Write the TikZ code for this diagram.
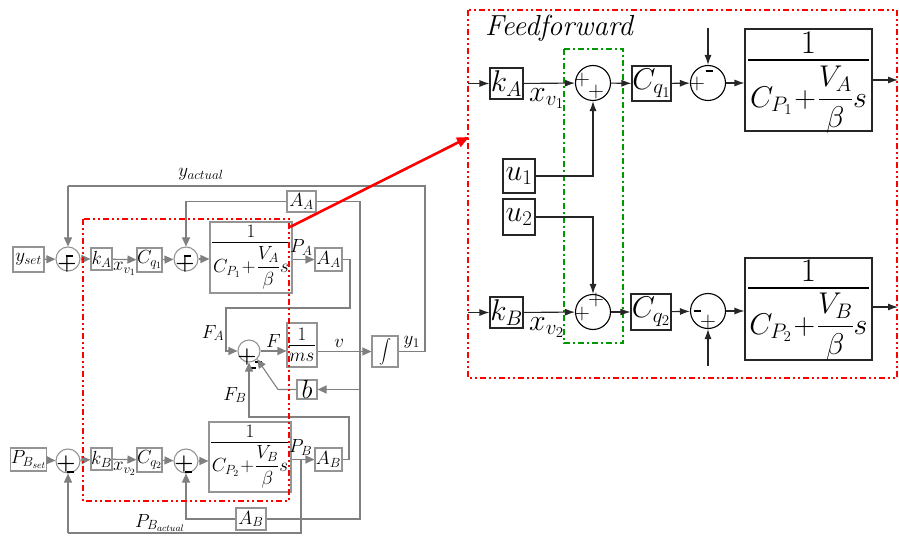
\RequirePackage{fix-cm}
\documentclass[tikz,border=0pt]{standalone}
\usepackage{amsmath}
\usetikzlibrary{arrows.meta,positioning,calc}

\newcommand{\signbar}{\rule[0pt]{7pt}{2.6pt}}

\begin{document}
\begin{tikzpicture}[
  x=1pt, y=-1pt,
  lfs/.style={font=\fontsize{19}{21}\selectfont},
  rfs/.style={font=\fontsize{30}{32}\selectfont},
  lblk/.style={draw=black!42, line width=1.1pt, inner sep=0pt, lfs},
  rblk/.style={draw=black!85, line width=1.1pt, inner sep=0pt, rfs},
  lsum/.style={circle, draw=black!42, line width=1.1pt, minimum size=24pt, inner sep=0pt},
  rsum/.style={circle, draw=black, line width=1.1pt, minimum size=35pt, inner sep=0pt},
  lwire/.style={draw=black!50, line width=1.1pt},
  larr/.style={lwire, -{Triangle[length=9pt,width=8pt]}},
  rwire/.style={draw=black!85, line width=1.1pt},
  rarr/.style={rwire, -{Latex[length=10pt,width=7pt]}},
  lsign/.style={inner sep=0pt, font=\fontsize{22}{22}\selectfont},
  rsign/.style={inner sep=0pt, font=\fontsize{22}{22}\selectfont},
  redbox/.style={draw=red, line width=2.6pt, dash pattern=on 6pt off 3pt on 2pt off 3pt on 2pt off 3pt},
  greenbox/.style={draw=green!60!black, line width=2.2pt, dash pattern=on 6pt off 3pt on 2pt off 3pt}
]
  \useasboundingbox (0,0) rectangle (899,537);

  % ---- left: closed loop ----
  \node[lblk, minimum width=31pt, minimum height=25pt] (yset) at (28.5,259.5) {$y_{set}$};
  \node[lsum] (sA1) at (68,259) {};
  \node[lblk, minimum width=21pt, minimum height=22pt] (kA) at (101.5,259) {$k_A$};
  \node[lblk, minimum width=25pt, minimum height=24pt] (cqA) at (149.5,260) {$C_{q_1}$};
  \node[lsum] (sA2) at (186,259) {};
  \node[lblk, minimum width=82pt, minimum height=71pt] (tfA) at (251,257.5) {};
  \draw[line width=0.9pt] (212,242) -- (290,242);
  \node[lfs] (tfAnum) at (251,231) {$1$};
  \node[lfs] (tfAden) at (251,268) {$C_{P_1}\!+\!\dfrac{V_A}{\beta}s$};
  \node[lblk, minimum width=27pt, minimum height=23pt] (aAr) at (328.5,259.5) {$A_A$};
  \node[lblk, minimum width=29pt, minimum height=21pt] (aAt) at (301.5,201.5) {$A_A$};

  \node[lsum, minimum size=22pt] (sF) at (249,351) {};
  \node[lblk, minimum width=30pt, minimum height=44pt] (invm) at (302,345) {};
  \draw[line width=0.9pt] (289,345) -- (315,345);
  \node[lfs] (invmnum) at (302,334) {$1$};
  \node[lfs] (invmden) at (302,357) {$ms$};
  \node[lblk, minimum width=20pt, minimum height=19pt, font=\fontsize{26}{26}\selectfont] (bblk) at (307,389.5) {$b$};
  \node[lblk, minimum width=26pt, minimum height=31pt, font=\fontsize{13}{13}\selectfont] (intg) at (385,351.5) {$\displaystyle\int$};
  \coordinate (vj) at (360,351.5);

  \node[lblk, minimum width=31pt, minimum height=23pt] (pbset) at (28.5,459.5) {$P_{B_{set}}$};
  \node[lsum] (sB1) at (68,461) {};
  \node[lblk, minimum width=21pt, minimum height=22pt] (kB) at (101.5,459) {$k_B$};
  \node[lblk, minimum width=25pt, minimum height=24pt] (cqB) at (149.5,460) {$C_{q_2}$};
  \node[lsum] (sB2) at (186,461) {};
  \node[lblk, minimum width=82pt, minimum height=70pt] (tfB) at (250,457) {};
  \draw[line width=0.9pt] (211,442) -- (289,442);
  \node[lfs] (tfBnum) at (250,431) {$1$};
  \node[lfs] (tfBden) at (250,467) {$C_{P_2}\!+\!\dfrac{V_B}{\beta}s$};
  \node[lblk, minimum width=27pt, minimum height=23pt] (aBr) at (328.5,459.5) {$A_B$};
  \node[lblk, minimum width=30pt, minimum height=22pt] (aBb) at (251,519) {$A_B$};

  % signs
  \node[lsign] at (67,264) {$\boldsymbol{+}$};
  \node[lsign] at (69,256) {\signbar};
  \node[lsign] at (185,264) {$\boldsymbol{+}$};
  \node[lsign] at (187,256) {\signbar};
  \node[lsign] at (66,464) {$\boldsymbol{+}$};
  \node[lsign] at (70,472) {\signbar};
  \node[lsign] at (184,464) {$\boldsymbol{+}$};
  \node[lsign] at (188,472) {\signbar};
  \node[lsign] at (247,357) {$\boldsymbol{+}$};
  \node[lsign] at (258,362) {\signbar};
  \node[lsign] at (252,368) {\signbar};

  % wires
  \draw[larr] (yset) -- (sA1);
  \draw[larr] (sA1) -- (kA);
  \draw[larr] (kA) -- node[below=-1pt, lfs] {$x_{v_1}$} (cqA);
  \draw[larr] (cqA) -- (sA2);
  \draw[larr] (sA2) -- (tfA.west |- sA2);
  \draw[larr] (tfA.east |- aAr) -- node[above=0pt, pos=0.4, lfs] {$P_A$} (aAr);
  \draw[larr] (aAr.east) -| (350,308) -| (226,351) -- (sF.west);
  \node[lfs] (fa) at (213,333) {$F_A$};
  \draw[larr] (sF) -- node[above=0pt, lfs] {$F$} (invm.west |- sF);
  \draw[larr] (invm.east |- intg) -- node[above=0pt, pos=0.4, lfs] {$v$} (intg.west);
  \draw[lwire] (intg.east) -- node[above=-1pt, lfs] {$y_1$} (425,351.5) |- (68,186);
  \draw[larr] (68,186) -- (sA1.north);
  \node[lfs] (yact) at (201,174) {$y_{actual}$};
  \draw[lwire] (vj) |- (aAt.east);
  \draw[larr] (aAt.west) -| (sA2.north);
  \draw[larr] (vj) |- (bblk.east);
  \draw[larr] (bblk.west) -- (278,389.5) -- (sF.south east);
  \draw[lwire] (vj) |- (aBb.east);
  \draw[larr] (aBb.west) -| (sB2.south);

  \draw[larr] (pbset) -- (sB1);
  \draw[larr] (sB1) -- (kB);
  \draw[larr] (kB) -- node[below=-1pt, lfs] {$x_{v_2}$} (cqB);
  \draw[larr] (cqB) -- (sB2);
  \draw[larr] (sB2) -- (tfB.west |- sB2);
  \draw[larr] (tfB.east |- aBr) -- node[above=0pt, pos=0.4, lfs] {$P_B$} (aBr);
  \draw[lwire] (301,459.5) -- (301,533) -- (68,533);
  \draw[larr] (68,533) -- (sB1.south);
  \node[lfs] (pbact) at (160,523) {$P_{B_{actual}}$};
  \draw[larr] (aBr.east) -| (349,417) -| (sF.south);
  \node[lfs] (fb) at (235,395) {$F_B$};

  \draw[redbox] (83,219) rectangle (289,501);
  \coordinate (zoomfrom) at (290,227);
  \coordinate (zoomto) at (469,137);
  \draw[red, line width=2.6pt, -{Triangle[length=12pt,width=10pt]}] (zoomfrom) -- (zoomto);

  % ---- right: feedforward ----
  \draw[redbox] (468,10) rectangle (897,378);
  \draw[greenbox] (564,49) rectangle (623,343);
  \node[font=\fontsize{29}{31}\selectfont\itshape] (fftitle) at (559,28) {Feedforward};

  \coordinate (inA) at (468,83.5);
  \coordinate (inB) at (468,312.5);
  \node[rblk, minimum width=33pt, minimum height=31pt] (kAr) at (506.5,83.5) {$k_A$};
  \node[rblk, minimum width=33pt, minimum height=31pt] (kBr) at (506.5,312.5) {$k_B$};
  \node[rblk, minimum width=32pt, minimum height=34pt] (u1) at (519,176) {$u_1$};
  \node[rblk, minimum width=32pt, minimum height=36pt] (u2) at (519,217) {$u_2$};
  \node[rsum] (ff1) at (593,83) {};
  \node[rsum] (ff2) at (593,312) {};
  \node[rblk, minimum width=39pt, minimum height=35pt] (cq1r) at (651.5,83.5) {$C_{q_1}$};
  \node[rblk, minimum width=40pt, minimum height=36pt] (cq2r) at (651,312) {$C_{q_2}$};
  \node[rsum] (rs1) at (708,83) {};
  \node[rsum] (rs2) at (708,311) {};
  \node[rblk, minimum width=127pt, minimum height=102pt] (tfAr) at (808.5,80) {};
  \draw[line width=2pt] (748,60) -- (869,60);
  \node[font=\fontsize{33}{35}\selectfont] (tfArnum) at (808.5,43) {$1$};
  \node[font=\fontsize{30}{32}\selectfont] (tfArden) at (808.5,100) {$C_{P_1}\!+\!\dfrac{V_A}{\beta}s$};
  \node[rblk, minimum width=127pt, minimum height=102pt] (tfBr) at (808.5,309) {};
  \draw[line width=2pt] (748,288) -- (869,288);
  \node[font=\fontsize{33}{35}\selectfont] (tfBrnum) at (808.5,271) {$1$};
  \node[font=\fontsize{30}{32}\selectfont] (tfBrden) at (808.5,327) {$C_{P_2}\!+\!\dfrac{V_B}{\beta}s$};
  \coordinate (topin) at (708,28);
  \coordinate (botin) at (708,366);
  \coordinate (outA) at (898,80);
  \coordinate (outB) at (898,307);

  \node[rsign] at (582,80) {$+$};
  \node[rsign] at (596,92) {$+$};
  \node[rsign] at (582,314) {$+$};
  \node[rsign] at (596,300) {$+$};
  \node[rsign] at (697,84) {$+$};
  \node[rsign] at (709,71) {\signbar};
  \node[rsign] at (697,311) {\signbar};
  \node[rsign] at (708,322) {$+$};

  \draw[rarr] (inA) -- (kAr);
  \draw[rarr] (kAr) -- node[below=1pt, pos=0.45, rfs] {$x_{v_1}$} (ff1);
  \draw[rarr] (u1.east) -| (ff1.south);
  \draw[rarr] (ff1) -- (cq1r);
  \draw[rarr] (cq1r) -- (rs1);
  \draw[rarr] (topin) -- (rs1.north);
  \draw[rarr] (rs1.east) -- (rs1.east -| tfAr.west);
  \draw[rarr] (tfAr.east |- outA) -- (outA);

  \draw[rarr] (inB) -- (kBr);
  \draw[rarr] (kBr) -- node[below=1pt, pos=0.45, rfs] {$x_{v_2}$} (ff2);
  \draw[rarr] (u2.east) -| (ff2.north);
  \draw[rarr] (ff2) -- (cq2r);
  \draw[rarr] (cq2r) -- (rs2);
  \draw[rarr] (botin) -- (rs2.south);
  \draw[rarr] (rs2.east) -- (rs2.east -| tfBr.west);
  \draw[rarr] (tfBr.east |- outB) -- (outB);
\end{tikzpicture}
\end{document}
